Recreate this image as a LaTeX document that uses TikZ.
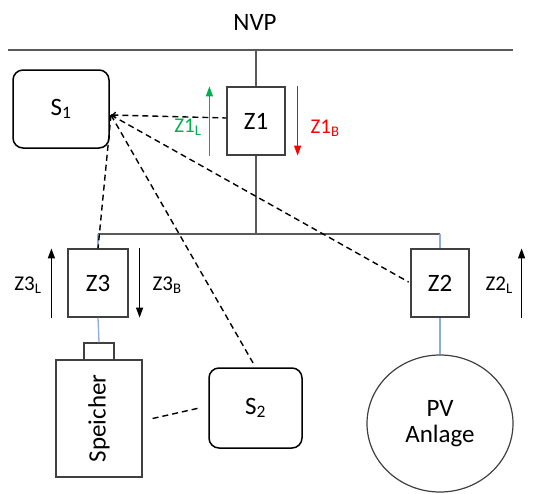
\documentclass[tikz,border=0pt]{standalone}
\usepackage{fontspec}
\setmainfont{Carlito}
\usetikzlibrary{arrows.meta,shapes.geometric}
\definecolor{feedblue}{HTML}{8FAADC}
\definecolor{lgreen}{HTML}{00B050}
\definecolor{lred}{HTML}{FF0000}
\definecolor{linegray}{HTML}{595959}
\begin{document}
\begin{tikzpicture}[x=1pt,y=-1pt,
  bigtext/.style={font=\fontsize{25}{29}\selectfont},
  lbltext/.style={font=\fontsize{21}{25}\selectfont},
  zbox/.style={draw=black!75, line width=1.2pt, inner sep=0pt, minimum width=58pt, minimum height=68pt, bigtext},
  sbox/.style={draw=black, line width=1.5pt, rounded corners=10pt, inner sep=0pt, bigtext},
  plainbox/.style={draw=black!75, line width=1.2pt, inner sep=0pt},
  bus/.style={draw=linegray, line width=1.6pt},
  feed/.style={draw=feedblue, line width=1.3pt},
  comm/.style={draw=black, line width=1.4pt, dash pattern=on 6pt off 4pt},
  flow/.style={-{Triangle[length=10pt,width=7pt]}, line width=1.3pt},
]
\useasboundingbox (0,0) rectangle (540,493);

% top bus
\node[bigtext] (NVP) at (255,22) {NVP};
\coordinate (nvpL) at (8,50);
\coordinate (nvpR) at (513,50);
\draw[bus] (nvpL) -- (nvpR);

% meters
\node[zbox] (Z1) at (256,121) {Z1};
\node[zbox, minimum width=60pt] (Z3) at (98,283) {Z3};
\node[zbox] (Z2) at (440,283) {Z2};

% controllers
\node[sbox, minimum width=96pt, minimum height=78pt] (S1) at (61,109) {S\textsubscript{1}};
\node[sbox, minimum width=93pt, minimum height=80pt] (S2) at (255.5,408) {S\textsubscript{2}};

% storage
\node[plainbox, minimum width=30pt, minimum height=17pt] (cap) at (99,351.5) {};
\node[plainbox, minimum width=86pt, minimum height=117pt] (Sp) at (99,418.5) {};
\node[bigtext, rotate=90] (SpT) at (Sp.center) {Speicher};

% PV
\node[ellipse, draw=black!75, line width=1.2pt, minimum width=146pt, minimum height=137pt, inner sep=0pt, align=center, bigtext] (PV) at (440,423.5) {PV\\[-3pt]Anlage};

% bus lines
\coordinate (b2L) at (98,234);
\coordinate (b2R) at (440,234);
\draw[bus] (Z1.north) -- (Z1.north |- nvpL);
\draw[bus] (Z1.south) -- (Z1.south |- b2L);
\draw[bus] (b2L) -- (b2R);
\draw[feed] (b2L) -- (Z3.north);
\draw[feed] (b2R) -- (Z2.north);
\draw[feed] (Z3.south) -- (cap.north);
\draw[feed] (Z2.south) -- (PV.north);

% communication
\coordinate (hub) at (111,115);
\draw[comm, {To[length=5pt,width=7pt]}-] (hub) -- ([yshift=3pt]Z1.west);
\draw[comm] (hub) -- (Z3.north);
\draw[comm, shorten >=5pt] (hub) -- (S2.north);
\draw[comm, shorten >=2pt] (hub) -- (Z2.west);
\draw[comm] ([xshift=10pt]Sp.east) -- ([xshift=-9pt]S2.west);

% flow arrows
\draw[flow, lgreen] ([xshift=-17pt]Z1.south west) -- ([xshift=-17pt]Z1.north west);
\node[lbltext, text=lgreen, anchor=east] (Z1L) at (205,127) {Z1\textsubscript{L}};
\draw[flow, lred] ([xshift=12pt]Z1.north east) -- ([xshift=12pt]Z1.south east);
\node[lbltext, text=lred, anchor=west] (Z1B) at (307,128) {Z1\textsubscript{B}};

\draw[flow] ([xshift=-16pt]Z3.south west) -- ([xshift=-16pt]Z3.north west);
\node[lbltext, anchor=east] (Z3L) at (45,285) {Z3\textsubscript{L}};
\draw[flow] ([xshift=11pt]Z3.north east) -- ([xshift=11pt]Z3.south east);
\node[lbltext, anchor=west] (Z3B) at (149,285) {Z3\textsubscript{B}};

\draw[flow] ([xshift=52pt]Z2.south east) -- ([xshift=52pt]Z2.north east);
\node[lbltext, anchor=west] (Z2L) at (482,285) {Z2\textsubscript{L}};
\end{tikzpicture}
\end{document}
